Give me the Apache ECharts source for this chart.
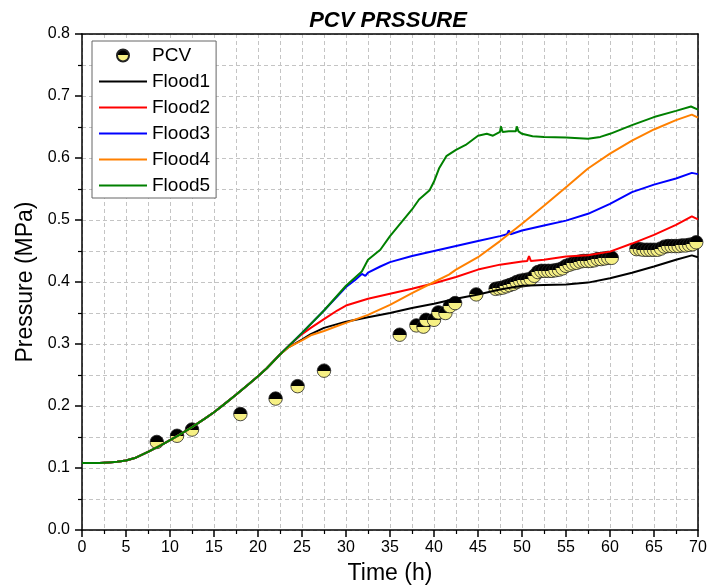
<!DOCTYPE html>
<html>
<head>
<meta charset="utf-8">
<script src="https://cdn.jsdelivr.net/npm/echarts@6/dist/echarts.min.js"></script>
<style>html,body{margin:0;padding:0;background:#fff}#c{width:714px;height:585px}</style>
</head>
<body>
<div id="c"></div>
<script>
// Shared early part of all flood curves
var baseT = [0, 1, 2, 3, 4, 5, 6, 7.5, 9, 10, 11, 12.5, 14, 15, 16, 17.5, 19, 20, 21, 22.5];
var baseP = [0.108, 0.108, 0.108, 0.109, 0.110, 0.112, 0.116, 0.126, 0.137, 0.145, 0.153, 0.166, 0.180, 0.190, 0.201, 0.218, 0.236, 0.248, 0.261, 0.283];

var flood1T = [23.5, 25, 26, 27.5, 29, 30, 32.5, 35, 37.5, 40, 42.5, 45, 47.5, 50, 52.5, 55, 57.5, 60, 62.5, 65, 67.5, 69.3, 70];
var flood1P = [0.295, 0.307, 0.316, 0.326, 0.332, 0.336, 0.343, 0.350, 0.358, 0.365, 0.373, 0.380, 0.388, 0.394, 0.395, 0.396, 0.399, 0.406, 0.415, 0.425, 0.436, 0.443, 0.440];

var flood2T = [23.5, 25, 26, 27.5, 29, 30, 32.5, 35, 37.5, 40, 42.5, 45, 47.5, 50, 50.6, 50.8, 51, 52.5, 55, 57.5, 60, 62.5, 65, 67.5, 69.3, 70];
var flood2P = [0.297, 0.316, 0.326, 0.340, 0.354, 0.362, 0.373, 0.381, 0.389, 0.398, 0.408, 0.420, 0.428, 0.433, 0.434, 0.442, 0.434, 0.436, 0.441, 0.443, 0.449, 0.462, 0.476, 0.492, 0.506, 0.501];

var flood3T = [23.5, 25, 27.5, 30, 31, 31.8, 32.2, 32.5, 33.9, 35, 37.5, 40, 42.5, 45, 47.5, 48.3, 48.5, 48.7, 50, 52.5, 55, 57.5, 60, 62.5, 65, 67.5, 69.3, 70];
var flood3P = [0.297, 0.318, 0.354, 0.392, 0.403, 0.413, 0.410, 0.415, 0.425, 0.432, 0.442, 0.450, 0.458, 0.466, 0.474, 0.477, 0.483, 0.477, 0.483, 0.491, 0.499, 0.510, 0.526, 0.545, 0.557, 0.567, 0.576, 0.574];

var flood4T = [23.5, 25, 26, 27.5, 29, 30, 32.5, 35, 37.5, 40, 41.7, 42.5, 45, 47.5, 50, 52.5, 55, 57.5, 60, 62.5, 65, 67.5, 69.3, 70];
var flood4P = [0.295, 0.306, 0.314, 0.321, 0.329, 0.334, 0.347, 0.363, 0.382, 0.400, 0.412, 0.420, 0.440, 0.466, 0.494, 0.523, 0.553, 0.583, 0.607, 0.628, 0.646, 0.661, 0.670, 0.665];

var flood5T = [23.5, 25, 27.5, 30, 31.8, 32.5, 33.9, 35, 37.5, 38.3, 39.5, 40, 40.6, 41.4, 42.5, 43.6, 45, 46, 46.7, 47.5, 47.6, 47.8, 48.5, 49.3, 49.4, 49.6, 50, 51.2, 52.5, 55, 57.5, 58.9, 60, 62.5, 65, 67.5, 69.2, 70];
var flood5P = [0.297, 0.318, 0.354, 0.394, 0.417, 0.436, 0.452, 0.474, 0.517, 0.533, 0.548, 0.562, 0.584, 0.603, 0.613, 0.621, 0.636, 0.639, 0.636, 0.642, 0.651, 0.642, 0.643, 0.643, 0.651, 0.643, 0.639, 0.635, 0.634, 0.633, 0.631, 0.634, 0.639, 0.653, 0.666, 0.676, 0.683, 0.678];

var pcvT = [8.5, 10.8, 12.5, 18, 22, 24.5, 27.5, 36.1, 38.0, 38.8, 39.1, 40.0, 40.5, 41.3, 41.8, 42.4, 44.8,
  47.0, 47.4, 47.8, 48.2, 48.6, 49.0, 49.4, 49.8, 50.2, 50.6, 51.0, 51.4, 51.8, 52.2, 52.6, 53.0, 53.4, 53.8, 54.2, 54.6,
  55.0, 55.4, 55.8, 56.2, 56.6, 57.0, 57.4, 57.8, 58.2, 58.6, 59.0, 59.4, 59.8, 60.2,
  63.0, 63.4, 63.8, 64.2, 64.6, 65.0, 65.4, 65.8, 66.2, 66.6, 67.0, 67.4, 67.8, 68.2, 68.6, 69.0, 69.4, 69.8];
var pcvP = [0.142, 0.152, 0.162, 0.187, 0.212, 0.232, 0.257, 0.315, 0.330, 0.328, 0.339, 0.339, 0.351, 0.350, 0.361, 0.366, 0.380,
  0.389, 0.390, 0.391, 0.393, 0.395, 0.397, 0.400, 0.402, 0.403, 0.404, 0.405, 0.410, 0.416, 0.418, 0.418, 0.418, 0.418, 0.419, 0.420, 0.422,
  0.426, 0.428, 0.430, 0.431, 0.433, 0.434, 0.434, 0.434, 0.435, 0.437, 0.437, 0.438, 0.439, 0.439,
  0.453, 0.453, 0.452, 0.452, 0.452, 0.452, 0.452, 0.454, 0.457, 0.458, 0.458, 0.458, 0.458, 0.459, 0.459, 0.460, 0.461, 0.464];

var seriesNames = ['PCV', 'Flood1', 'Flood2', 'Flood3', 'Flood4', 'Flood5'];
var lineColors = ['#000000', '#ff0000', '#0000ff', '#ff8000', '#008000'];
var xTicks = {min: 0, max: 70, step: 5};
var yTicks = {min: 0, max: 0.8, step: 0.1};

function pairs(t, p) { return t.map(function (v, i) { return [v, p[i]]; }); }
function withBase(t, p) { return pairs(baseT.concat(t), baseP.concat(p)); }

var floods = [[flood1T, flood1P], [flood2T, flood2P], [flood3T, flood3P], [flood4T, flood4P], [flood5T, flood5P]];

var FONT = '"Liberation Sans", Arial, sans-serif';
var gridStyle = {show: true, lineStyle: {color: '#c4c4c4', type: [4, 3], width: 1}};

var chart = echarts.init(document.getElementById('c'), null, {renderer: 'canvas'});
var halfFill = new echarts.graphic.LinearGradient(0, 0, 0, 1, [
  {offset: 0, color: '#000'}, {offset: 0.5, color: '#000'},
  {offset: 0.5, color: '#f6f084'}, {offset: 1, color: '#f6f084'}
]);

var series = [{
  name: seriesNames[0], type: 'scatter', data: pairs(pcvT, pcvP),
  symbol: 'circle', symbolSize: 13.5, z: 2,
  itemStyle: {color: halfFill, borderColor: '#222', borderWidth: 0.8, opacity: 1}
}];
floods.forEach(function (f, i) {
  series.push({
    name: seriesNames[i + 1], type: 'line', data: withBase(f[0], f[1]),
    symbol: 'none', showSymbol: false, smooth: false, z: 3,
    lineStyle: {color: lineColors[i], width: 2},
    itemStyle: {color: lineColors[i]}
  });
});

var lineIcon = 'path://M0 0H48V2H0Z';
var legendData = seriesNames.map(function (n, i) {
  return i === 0 ? {name: n, icon: 'circle'} : {name: n, icon: lineIcon};
});

chart.setOption({
  animation: false,
  backgroundColor: '#fff',
  textStyle: {fontFamily: FONT},
  title: {
    text: 'PCV PRSSURE', left: 383, top: 5, textAlign: 'center',
    textStyle: {fontFamily: FONT, fontSize: 22, fontWeight: 'bold', fontStyle: 'italic', color: '#000'}
  },
  legend: {
    data: legendData, orient: 'vertical', left: 92, top: 41,
    backgroundColor: '#fff', borderColor: '#666', borderWidth: 1,
    padding: [5, 6, 3, 7], itemWidth: 48, itemHeight: 12, itemGap: 7,
    symbolKeepAspect: true,
    textStyle: {fontFamily: FONT, fontSize: 19, lineHeight: 18, color: '#000'}
  },
  grid: {left: 82, right: 16, top: 34, bottom: 55, containLabel: false, outerBoundsMode: 'none'},
  xAxis: [{
    type: 'value', min: xTicks.min, max: xTicks.max, interval: xTicks.step,
    name: 'Time (h)', nameLocation: 'middle', nameGap: 32,
    nameTextStyle: {fontFamily: FONT, fontSize: 23, color: '#000'},
    axisLine: {show: true, lineStyle: {color: '#000', width: 1.5}},
    axisTick: {show: true, length: 7, lineStyle: {color: '#000', width: 1.5}},
    minorTick: {show: true, splitNumber: 2, length: 4, lineStyle: {color: '#000', width: 1.2}},
    axisLabel: {fontFamily: FONT, fontSize: 16, color: '#000', margin: 10},
    splitLine: gridStyle, minorSplitLine: gridStyle
  }, {
    type: 'value', position: 'top', min: xTicks.min, max: xTicks.max,
    axisLine: {show: true, onZero: false, lineStyle: {color: '#000', width: 1.5}},
    axisTick: {show: false}, axisLabel: {show: false}, splitLine: {show: false}
  }],
  yAxis: [{
    type: 'value', min: yTicks.min, max: yTicks.max, interval: yTicks.step,
    name: 'Pressure (MPa)', nameLocation: 'middle', nameGap: 45,
    nameTextStyle: {fontFamily: FONT, fontSize: 23, color: '#000'},
    axisLine: {show: true, lineStyle: {color: '#000', width: 1.5}},
    axisTick: {show: true, length: 7, lineStyle: {color: '#000', width: 1.5}},
    minorTick: {show: true, splitNumber: 2, length: 4, lineStyle: {color: '#000', width: 1.2}},
    axisLabel: {fontFamily: FONT, fontSize: 16, color: '#000', margin: 12,
      formatter: function (v) { return v.toFixed(1); }},
    splitLine: gridStyle, minorSplitLine: gridStyle
  }, {
    type: 'value', position: 'right', min: yTicks.min, max: yTicks.max,
    axisLine: {show: true, onZero: false, lineStyle: {color: '#000', width: 1.5}},
    axisTick: {show: false}, axisLabel: {show: false}, splitLine: {show: false}
  }],
  series: series
});
</script>
</body>
</html>
